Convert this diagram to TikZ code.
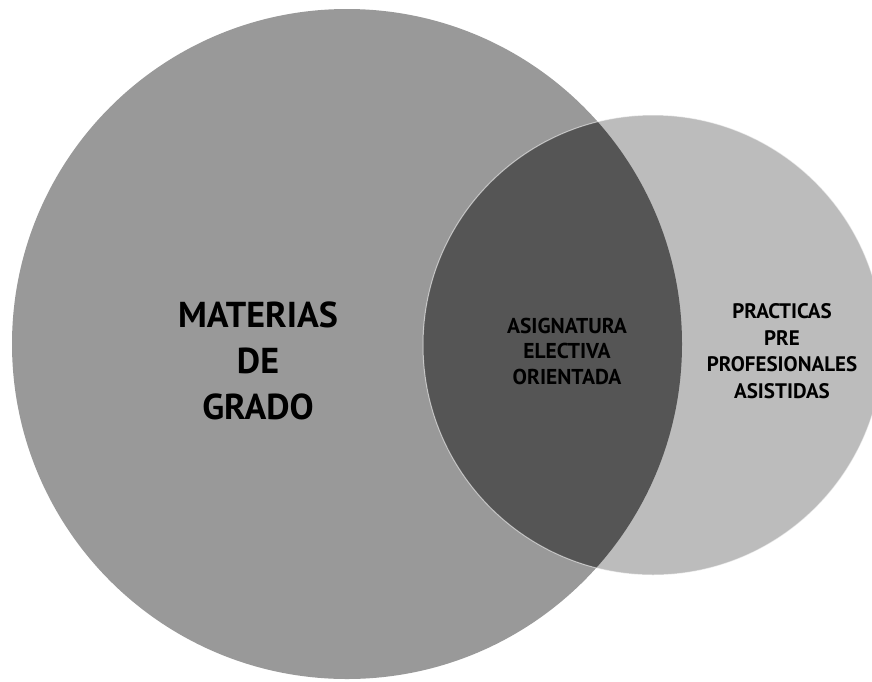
\documentclass[tikz,border=0pt]{standalone}
\usepackage{fontspec}
\setmainfont{PT Sans}
\definecolor{bigc}{HTML}{999999}
\definecolor{smallc}{HTML}{BCBCBC}
\definecolor{interc}{HTML}{555555}
\tikzset{
  lbl/.style={align=center, text=black, inner sep=0pt},
}
\begin{document}
\begin{tikzpicture}[x=1pt,y=-1pt]
\useasboundingbox (0,0) rectangle (872,681);
\clip (0,0) rectangle (872,681);
\coordinate (cb) at (347,344);
\coordinate (cs) at (653,345);
\fill[bigc] (cb) circle[radius=335];
\fill[smallc] (cs) circle[radius=230];
\begin{scope}
  \clip (cb) circle[radius=335];
  \fill[interc] (cs) circle[radius=230];
\end{scope}
\draw[white, opacity=0.55, line width=1pt] (cs) circle[radius=230];
\node[lbl, font=\bfseries\fontsize{36}{46}\selectfont] (mat) at (258,361) {MATERIAS\\DE\\GRADO};
\node[lbl, font=\bfseries\fontsize{21.5}{25.5}\selectfont] (asig) at (567,351) {ASIGNATURA\\ELECTIVA\\ORIENTADA};
\node[lbl, font=\bfseries\fontsize{21}{26.7}\selectfont] (prac) at (782,351) {PRACTICAS\\PRE\\PROFESIONALES\\ASISTIDAS};
\end{tikzpicture}
\end{document}
